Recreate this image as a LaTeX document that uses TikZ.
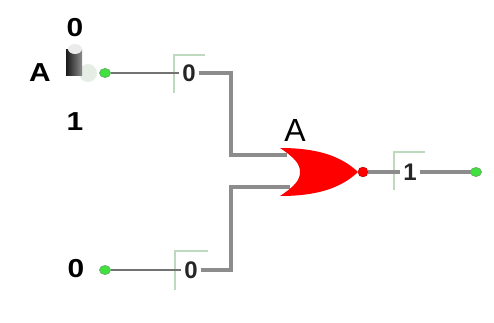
\documentclass[tikz,border=0pt]{standalone}
\usepackage{fontspec}
\setmainfont{Liberation Sans}
\usetikzlibrary{shapes.geometric}
\tikzset{
  wire/.style={draw=black!45, line width=3.2pt},
  thinwire/.style={draw=black!55, line width=2.6pt},
  pin/.style={ellipse, draw=green!50!black!60, fill=green!85!black!75, line width=0.8pt, minimum width=11pt, minimum height=9pt, inner sep=0pt},
  val/.style={font=\fontsize{26}{26}\selectfont\bfseries, xscale=1.15, inner sep=1pt},
  probeval/.style={font=\fontsize{24}{24}\selectfont\bfseries, inner sep=3pt, text=black!85},
  probe/.style={draw=green!40!black!25, line width=1.5pt}
}
\begin{document}
\begin{tikzpicture}[x=1pt,y=-1pt]
  \useasboundingbox (0,0) rectangle (494,323);

  % switch
  \node[val] (swtop) at (75,28) {0};
  \node[val] (swname) at (40,73) {A};
  \node[val] (swbot) at (75,122) {1};
  \fill[green!30!black!10] (88,73) circle (9);
  \shade[left color=black!90, right color=black!45] (66,50) rectangle (82,76);
  \fill[black!8] (75,49) ellipse (7 and 5);
  \node[pin] (inA) at (105,73) {};
  \node[val] (inBname) at (76,269) {0};
  \node[pin] (inB) at (105,270) {};

  % probes
  \node[probeval] (pA) at (189,73) {0};
  \node[probeval] (pB) at (191,270) {0};
  \node[probeval] (pQ) at (410,172) {1};
  \draw[probe] (205,55) -- (174,55) -- (174,93);
  \draw[probe] (208,251) -- (175,251) -- (175,290);
  \draw[probe] (425,152) -- (394,152) -- (394,190);

  % gate
  \coordinate (g1) at (287,155);
  \coordinate (g2) at (290,187);
  \coordinate (gout) at (368,172);
  \coordinate (outend) at (476,172);
  \draw[thinwire] (inA) -- (pA);
  \draw[wire] (pA) -| (231,155) -- (g1);
  \draw[thinwire] (inB) -- (pB);
  \draw[wire] (pB) -| (231,187) -- (g2);
  \draw[wire] (gout) -- (pQ);
  \draw[wire] (pQ) -- (outend);
  \fill[red] (280,148) .. controls (315,148) and (340,155) .. (358,172)
    .. controls (340,189) and (315,196) .. (280,196)
    .. controls (295,186) and (300,180) .. (300,172)
    .. controls (300,164) and (295,158) .. (280,148) -- cycle;
  \node[circle, fill=red, draw=red!70!black, minimum size=10pt, inner sep=0pt] (bubble) at (363,172) {};
  \node[pin] (outQ) at (476,172) {};
  \node[font=\fontsize{32}{32}\selectfont, inner sep=0pt] (gname) at (295,130) {A};
\end{tikzpicture}
\end{document}
